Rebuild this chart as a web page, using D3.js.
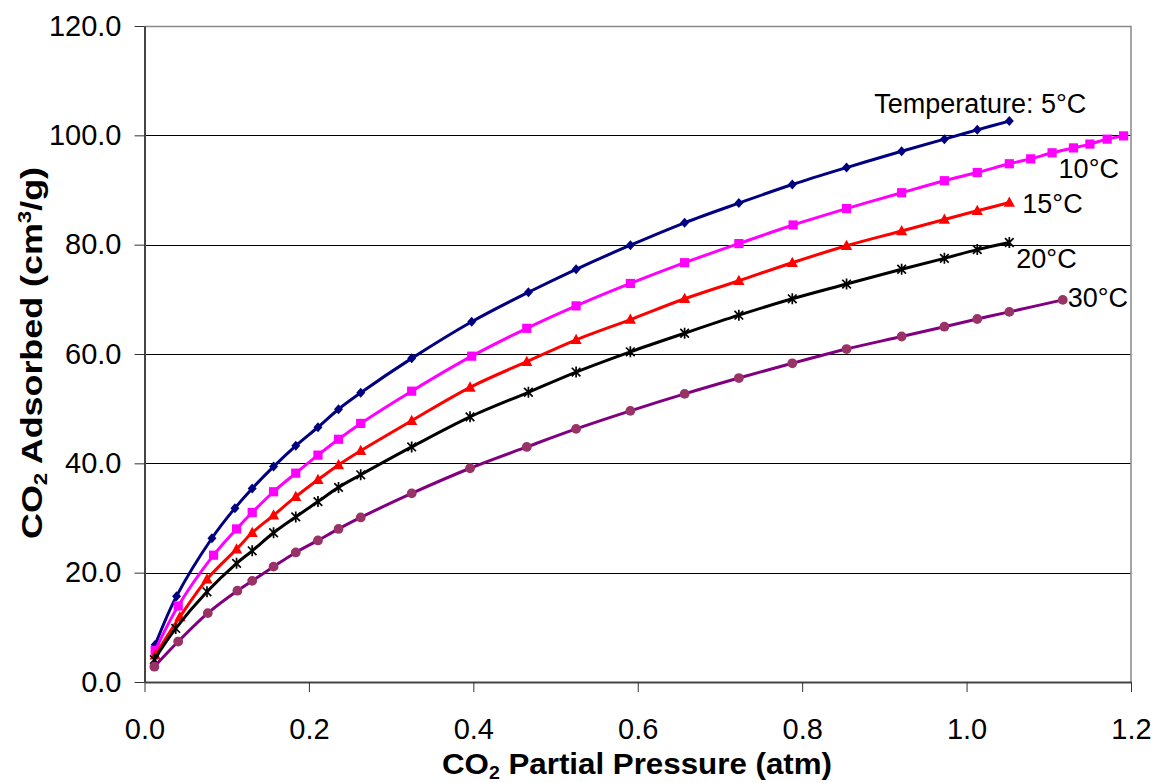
<!DOCTYPE html>
<html>
<head>
<meta charset="utf-8">
<script src="https://cdn.jsdelivr.net/npm/d3@7"></script>
<style>
  body { margin: 0; background: white; }
  svg { display: block; }
</style>
</head>
<body>
<div id="chart"></div>
<script>
// CO2 partial pressure (atm) and amount adsorbed (cm3/g)
const pressure5 = [0.013, 0.039, 0.082, 0.110, 0.131, 0.157, 0.184, 0.211, 0.236, 0.263, 0.325, 0.398, 0.467, 0.525, 0.591, 0.657, 0.723, 0.788, 0.854, 0.921, 0.973, 1.013, 1.052];
const adsorbed5 = [6.8, 15.7, 26.3, 31.8, 35.4, 39.4, 43.2, 46.6, 49.9, 52.9, 59.2, 65.9, 71.3, 75.5, 79.9, 84.0, 87.6, 91.0, 94.1, 97.1, 99.3, 101.0, 102.6];

const pressure10 = [0.013, 0.041, 0.084, 0.112, 0.131, 0.157, 0.184, 0.211, 0.236, 0.263, 0.325, 0.398, 0.465, 0.525, 0.591, 0.657, 0.723, 0.789, 0.854, 0.921, 0.973, 1.013, 1.052, 1.078, 1.104, 1.130, 1.150, 1.171, 1.191];
const adsorbed10 = [5.8, 13.9, 23.2, 28.0, 31.0, 34.8, 38.2, 41.5, 44.4, 47.3, 53.2, 59.6, 64.7, 68.8, 72.9, 76.7, 80.2, 83.6, 86.6, 89.5, 91.7, 93.2, 94.8, 95.7, 96.8, 97.7, 98.4, 99.3, 99.9];

const pressure15 = [0.013, 0.043, 0.076, 0.112, 0.131, 0.157, 0.184, 0.211, 0.236, 0.263, 0.325, 0.396, 0.465, 0.525, 0.591, 0.657, 0.723, 0.788, 0.854, 0.921, 0.973, 1.013, 1.052];
const adsorbed15 = [4.9, 11.9, 18.8, 24.3, 27.3, 30.5, 33.9, 37.0, 39.7, 42.3, 47.8, 53.9, 58.6, 62.6, 66.3, 70.1, 73.4, 76.7, 79.8, 82.5, 84.6, 86.2, 87.7];

const pressure20 = [0.012, 0.038, 0.076, 0.112, 0.131, 0.157, 0.184, 0.211, 0.236, 0.263, 0.325, 0.396, 0.467, 0.525, 0.591, 0.657, 0.723, 0.788, 0.854, 0.921, 0.973, 1.013, 1.052];
const adsorbed20 = [4.1, 9.8, 16.5, 21.7, 24.0, 27.3, 30.2, 33.0, 35.6, 37.9, 43.0, 48.5, 53.0, 56.7, 60.4, 63.8, 67.1, 70.1, 72.8, 75.5, 77.5, 79.1, 80.4];

const pressure30 = [0.012, 0.041, 0.077, 0.113, 0.131, 0.157, 0.184, 0.211, 0.236, 0.263, 0.325, 0.396, 0.465, 0.525, 0.591, 0.657, 0.723, 0.788, 0.854, 0.921, 0.973, 1.013, 1.052, 1.117];
const adsorbed30 = [2.8, 7.4, 12.6, 16.7, 18.5, 21.1, 23.7, 25.9, 28.0, 30.1, 34.5, 39.1, 43.0, 46.3, 49.6, 52.7, 55.6, 58.3, 60.9, 63.2, 65.0, 66.4, 67.7, 69.9];

const seriesLabels = ["Temperature: 5\u00B0C", "10\u00B0C", "15\u00B0C", "20\u00B0C", "30\u00B0C"];
const xTicks = [0, 0.2, 0.4, 0.6, 0.8, 1.0, 1.2];
const yTicks = [0, 20, 40, 60, 80, 100, 120];

const w = 1154;
const h = 783;
const plotLeft = 144.5;
const plotRight = 1131;
const plotTop = 26;
const plotBottom = 682;

const xScale = d3.scaleLinear().domain([0, 1.2]).range([plotLeft, plotRight]);
const yScale = d3.scaleLinear().domain([0, 120]).range([plotBottom, plotTop]);

const svg = d3.select("#chart")
  .append("svg")
  .attr("width", w)
  .attr("height", h)
  .style("background", "white")
  .style("font-family", "Arial, 'Liberation Sans', sans-serif");

// grid lines
svg.append("g")
  .selectAll("line")
  .data(yTicks.slice(1, -1))
  .enter()
  .append("line")
  .attr("x1", plotLeft)
  .attr("x2", plotRight)
  .attr("y1", d => Math.round(yScale(d)) + 0.5)
  .attr("y2", d => Math.round(yScale(d)) + 0.5)
  .attr("stroke", "#000")
  .attr("stroke-width", 1);

// plot area border (top + right), grey
svg.append("path")
  .attr("d", `M${plotLeft},${plotTop + 0.5}H${plotRight}V${plotBottom}`)
  .attr("fill", "none")
  .attr("stroke", "#888")
  .attr("stroke-width", 1.5);

const xAxis = d3.axisBottom(xScale)
  .tickValues(xTicks)
  .tickFormat(d3.format(".1f"))
  .tickSizeInner(10)
  .tickSizeOuter(0)
  .tickPadding(26);

const yAxis = d3.axisLeft(yScale)
  .tickValues(yTicks)
  .tickFormat(d3.format(".1f"))
  .tickSizeInner(10)
  .tickSizeOuter(0)
  .tickPadding(13);

const gx = svg.append("g")
  .attr("transform", "translate(0," + plotBottom + ")")
  .call(xAxis);

const gy = svg.append("g")
  .attr("transform", "translate(" + plotLeft + ",0)")
  .call(yAxis);

[gx, gy].forEach(g => {
  g.select(".domain").attr("stroke", "#444").attr("stroke-width", 2);
  g.selectAll(".tick line").attr("stroke", "#333").attr("stroke-width", 1);
  g.selectAll(".tick text")
    .attr("fill", "#000")
    .style("font-size", "29px")
    .style("font-family", "Arial, 'Liberation Sans', sans-serif");
});

// series
const series = [
  { p: pressure5, q: adsorbed5, line: "#000080", mark: "#000080", shape: "diamond", dx: -135, dy: -8 },
  { p: pressure10, q: adsorbed10, line: "#FF00FF", mark: "#FF00FF", shape: "square", dx: -65, dy: 42 },
  { p: pressure15, q: adsorbed15, line: "#FF0000", mark: "#FF0000", shape: "triangle", dx: 13, dy: 10 },
  { p: pressure20, q: adsorbed20, line: "#000000", mark: "#000000", shape: "star", dx: 7, dy: 26 },
  { p: pressure30, q: adsorbed30, line: "#800080", mark: "#993366", shape: "circle", dx: 5, dy: 7 }
];

const lineGen = d3.line()
  .x(d => xScale(d[0]))
  .y(d => yScale(d[1]))
  .curve(d3.curveCatmullRom.alpha(0.5));

function markerPath(shape) {
  if (shape === "diamond") return "M0,-5L4.5,0L0,5L-4.5,0Z";
  if (shape === "square") return "M-4.6,-4.6H4.6V4.6H-4.6Z";
  if (shape === "triangle") return "M0,-6L5.6,4.3L-5.6,4.3Z";
  if (shape === "star") return "M-4.3,-4.3L4.3,4.3M-4.3,4.3L4.3,-4.3M0,-5.5L0,5.5";
  return null;
}

series.forEach((s, i) => {
  const pts = s.p.map((p, j) => [p, s.q[j]]);
  const g = svg.append("g");

  g.append("path")
    .datum(pts)
    .attr("d", lineGen)
    .attr("fill", "none")
    .attr("stroke", s.line)
    .attr("stroke-width", 3);

  if (s.shape === "circle") {
    g.selectAll("circle")
      .data(pts)
      .enter()
      .append("circle")
      .attr("cx", d => xScale(d[0]))
      .attr("cy", d => yScale(d[1]))
      .attr("r", 4.9)
      .attr("fill", s.mark);
  } else {
    g.selectAll("path.mark")
      .data(pts)
      .enter()
      .append("path")
      .attr("class", "mark")
      .attr("transform", d => `translate(${xScale(d[0])},${yScale(d[1])})`)
      .attr("d", markerPath(s.shape))
      .attr("fill", s.shape === "star" ? "none" : s.mark)
      .attr("stroke", s.shape === "star" ? s.mark : "none")
      .attr("stroke-width", 1.7);
  }

  const last = pts[pts.length - 1];
  svg.append("text")
    .attr("x", xScale(last[0]) + s.dx)
    .attr("y", yScale(last[1]) + s.dy)
    .text(seriesLabels[i])
    .style("font-size", "27px")
    .attr("fill", "#000");
});

// axis titles
const xTitle = svg.append("text")
  .attr("x", 637)
  .attr("y", 774)
  .attr("text-anchor", "middle")
  .attr("textLength", 390)
  .attr("lengthAdjust", "spacingAndGlyphs")
  .style("font-size", "29px")
  .style("font-weight", "bold");
xTitle.append("tspan").text("CO");
xTitle.append("tspan").text("2").style("font-size", "18px").attr("dy", 5);
xTitle.append("tspan").text(" Partial Pressure (atm)").attr("dy", -5);

const yTitle = svg.append("text")
  .attr("transform", "translate(42,353) rotate(-90)")
  .attr("text-anchor", "middle")
  .attr("textLength", 372)
  .attr("lengthAdjust", "spacingAndGlyphs")
  .style("font-size", "29px")
  .style("font-weight", "bold");
yTitle.append("tspan").text("CO");
yTitle.append("tspan").text("2").style("font-size", "18px").attr("dy", 5);
yTitle.append("tspan").text(" Adsorbed (cm").attr("dy", -5);
yTitle.append("tspan").text("3").style("font-size", "18px").attr("dy", -11);
yTitle.append("tspan").text("/g)").attr("dy", 11);
</script>
</body>
</html>
